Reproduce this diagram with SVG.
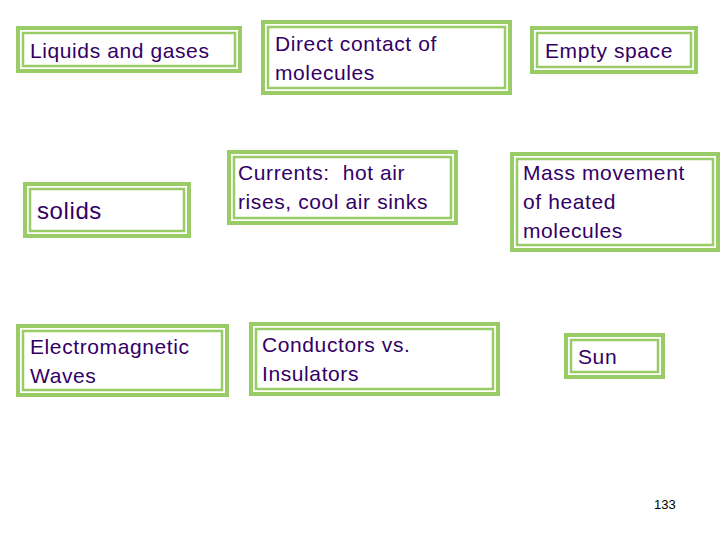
<svg xmlns="http://www.w3.org/2000/svg" width="720" height="540" viewBox="0 0 720 540">
<style>
.o{fill:#fff;stroke:#99cc66;stroke-width:4}
.i{fill:none;stroke:#99cc66;stroke-width:2.5}
text{font-family:"Liberation Sans",Arial,sans-serif;font-size:21px;fill:#330066;letter-spacing:0.6px;white-space:pre}
</style>
<rect width="720" height="540" fill="#fff"/>
<g id="n1"><rect class="o" x="18" y="28" width="222" height="43"/><rect class="i" x="23" y="33" width="212" height="33"/><text x="30" y="58">Liquids and gases</text></g>
<g id="n2"><rect class="o" x="263" y="22" width="247" height="71"/><rect class="i" x="268" y="27" width="237" height="61"/><text x="275" y="51">Direct contact of</text><text x="275" y="80">molecules</text></g>
<g id="n3"><rect class="o" x="532" y="28" width="164" height="44"/><rect class="i" x="537" y="33" width="154" height="34"/><text x="545" y="58">Empty space</text></g>
<g id="n4"><rect class="o" x="25" y="184" width="164" height="52"/><rect class="i" x="30" y="189" width="154" height="42"/><text x="37" y="219" style="font-size:24px">solids</text></g>
<g id="n5"><rect class="o" x="229" y="152" width="227" height="71"/><rect class="i" x="234" y="157" width="217" height="61"/><text x="238" y="180" xml:space="preserve">Currents:  hot air</text><text x="238" y="209">rises, cool air sinks</text></g>
<g id="n6"><rect class="o" x="512" y="154" width="206" height="96"/><rect class="i" x="517" y="159" width="196" height="86"/><text x="523" y="180">Mass movement</text><text x="523" y="209">of heated</text><text x="523" y="238">molecules</text></g>
<g id="n7"><rect class="o" x="18" y="326" width="209" height="69"/><rect class="i" x="23" y="331" width="199" height="59"/><text x="30" y="354">Electromagnetic</text><text x="30" y="383">Waves</text></g>
<g id="n8"><rect class="o" x="251" y="324" width="247" height="70"/><rect class="i" x="256" y="329" width="237" height="60"/><text x="262" y="352">Conductors vs.</text><text x="262" y="381">Insulators</text></g>
<g id="n9"><rect class="o" x="566" y="335" width="97" height="42"/><rect class="i" x="571" y="340" width="87" height="32"/><text x="578" y="364">Sun</text></g>
<g id="connectors"></g>
<text x="654" y="509" style="font-size:13px;fill:#000;letter-spacing:0">133</text>
</svg>
